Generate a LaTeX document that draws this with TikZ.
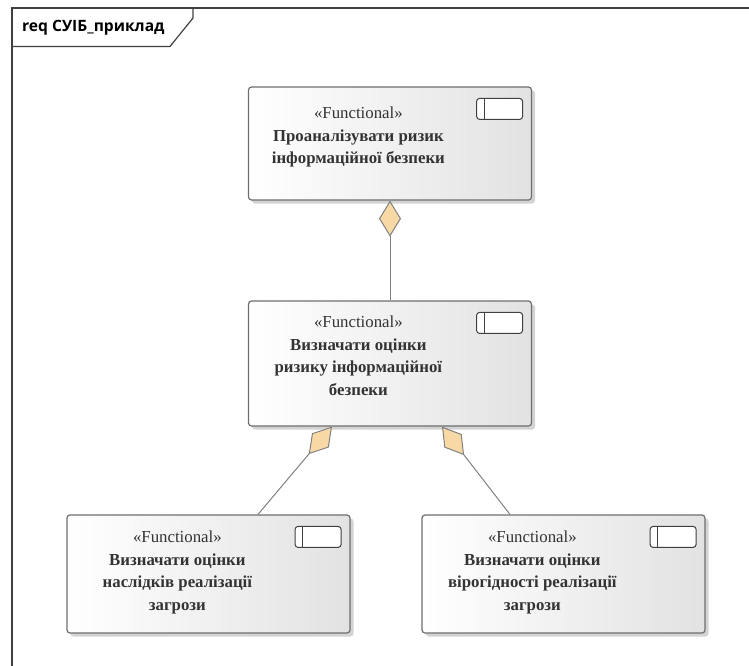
\documentclass[tikz,border=0pt]{standalone}
\usepackage{fontspec}
\setmainfont{Liberation Serif}
\newfontfamily\hdrfont{Open Sans}
\usetikzlibrary{arrows.meta,shadows,calc}
\definecolor{framecol}{HTML}{404040}
\definecolor{boxedge}{HTML}{6E6E6E}
\definecolor{boxright}{HTML}{E2E2E2}
\definecolor{linecol}{HTML}{808080}
\definecolor{diafill}{HTML}{F8D9A6}
\definecolor{txtcol}{HTML}{333333}
\tikzset{
  reqbox/.style={draw=boxedge, line width=1.2pt, rounded corners=3pt,
    left color=white, right color=boxright, shading angle=90,
    minimum width=283pt, minimum height=118pt, inner sep=0pt,
    drop shadow={shadow xshift=3.5pt, shadow yshift=-3.5pt, opacity=0.35, fill=gray}},
  iconbox/.style={draw=framecol, line width=1pt, rounded corners=3pt, fill=white,
    minimum width=46pt, minimum height=21pt, inner sep=0pt},
  reqtext/.style={text=txtcol, align=center, inner sep=0pt, anchor=north,
    font=\fontsize{16.8}{22.5}\selectfont},
  agg/.style={draw=linecol, line width=1pt,
    {Diamond[length=36pt,width=22pt,fill=diafill,line width=1pt]}-},
  hdr/.style={font=\hdrfont\bfseries\fontsize{15.6}{18}\selectfont, text=black, anchor=west, inner sep=0pt}
}
\newcommand{\reqicon}[2]{%
  \node[iconbox, anchor=north east] (#2) at ($(#1.north east)+(-9pt,-11.5pt)$) {};
  \draw[framecol, line width=1pt] ($(#2.north west)+(8pt,0)$) -- ($(#2.south west)+(8pt,0)$);}
\begin{document}
\begin{tikzpicture}[x=1pt,y=-1pt]
\useasboundingbox (0,0) rectangle (749,666);
% frame
\draw[framecol, line width=1.5pt] (12,670) -- (12,8) -- (752,8);
\draw[framecol, line width=1.2pt] (193,8) -- (193,18) -- (170,46.5) -- (12,46.5);
\node[hdr] (title) at (22,28) {req СУІБ\_приклад};
% boxes
\node[reqbox, minimum height=113pt] (b1) at (390,143.5) {};
\node[reqbox, minimum height=125pt] (b2) at (390,363.5) {};
\node[reqbox] (b3) at (208.5,574) {};
\node[reqbox] (b4) at (563.5,574) {};
\reqicon{b1}{i1}
\reqicon{b2}{i2}
\reqicon{b3}{i3}
\reqicon{b4}{i4}
% texts
\node[reqtext] (t1) at ($(b1.north west)+(110.5,20.5)$) {«Functional»\\\textbf{Проаналізувати ризик}\\\textbf{інформаційної безпеки}};
\node[reqtext] (t2) at ($(b2.north west)+(110.5,15.5)$) {«Functional»\\\textbf{Визначати оцінки}\\\textbf{ризику інформаційної}\\\textbf{безпеки}};
\node[reqtext] (t3) at ($(b3.north west)+(111,16.5)$) {«Functional»\\\textbf{Визначати оцінки}\\\textbf{наслідків реалізації}\\\textbf{загрози}};
\node[reqtext] (t4) at ($(b4.north west)+(111,16.5)$) {«Functional»\\\textbf{Визначати оцінки}\\\textbf{вірогідності реалізації}\\\textbf{загрози}};
% connectors
\coordinate (s2) at ($(b2.south)+(-58,0)$);
\coordinate (s3) at ($(b2.south)+(52,0)$);
\coordinate (e3) at ($(b3.north)+(49.5,0)$);
\coordinate (e4) at ($(b4.north)+(-53.5,0)$);
\draw[agg] (b1.south) -- (b2.north);
\draw[agg] (s2) -- (e3);
\draw[agg] (s3) -- (e4);
\end{tikzpicture}
\end{document}
